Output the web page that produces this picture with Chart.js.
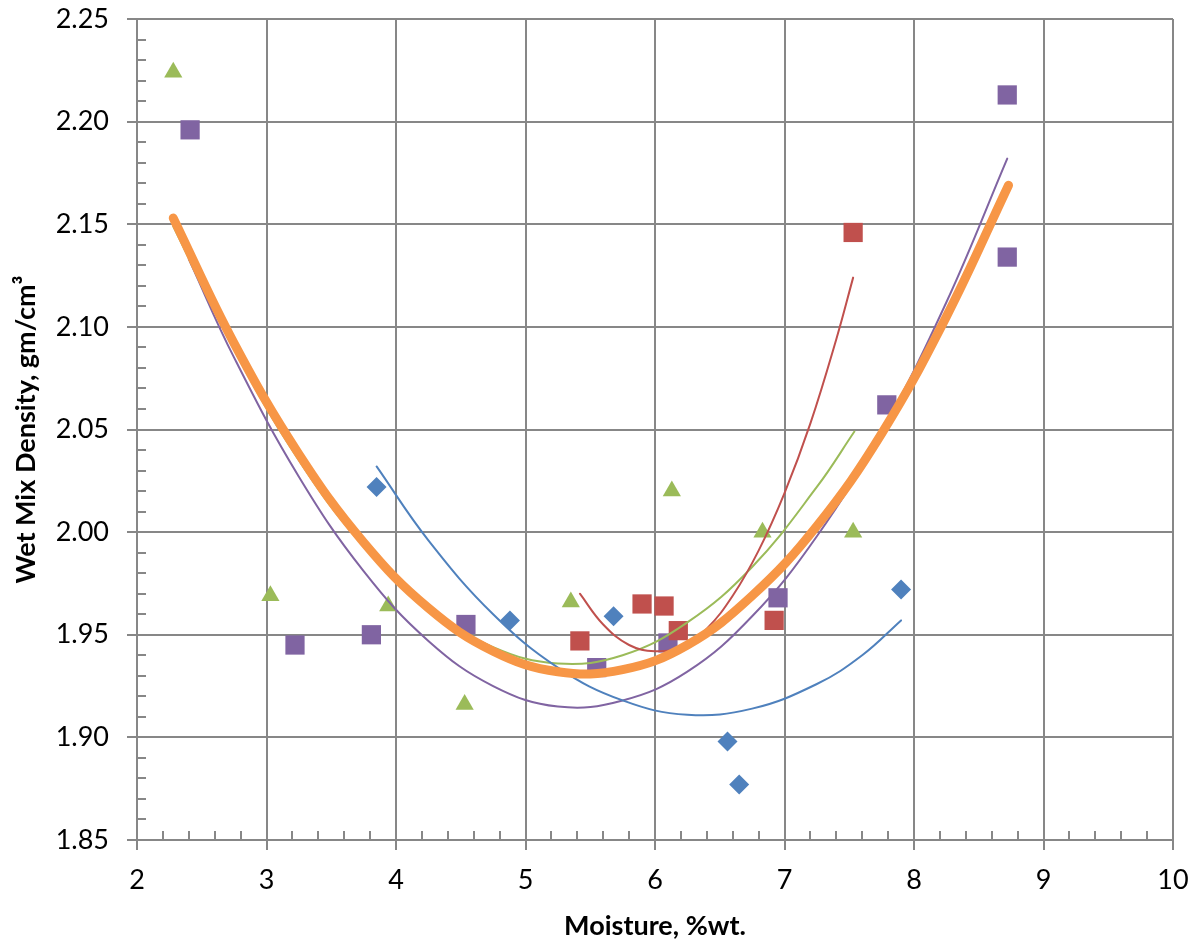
<!DOCTYPE html>
<html>
<head>
<meta charset="utf-8">
<script src="https://cdn.jsdelivr.net/npm/chart.js@4.4.1/dist/chart.umd.min.js"></script>
<style>
  html, body { margin: 0; padding: 0; background: #fff; }
  #wrap { width: 1198px; height: 946px; }
</style>
</head>
<body>
<div id="wrap"><canvas id="myChart" width="1198" height="946"></canvas></div>
<script>
// measured points (moisture %wt, wet mix density)
const blueX = [3.85, 4.88, 5.68, 6.56, 6.65, 7.90];
const blueY = [2.022, 1.957, 1.959, 1.898, 1.877, 1.972];
const redX = [5.42, 5.90, 6.07, 6.18, 6.92, 7.53];
const redY = [1.947, 1.965, 1.964, 1.952, 1.957, 2.146];
const greenX = [2.28, 3.03, 3.94, 4.53, 5.35, 6.13, 6.83, 7.53];
const greenY = [2.224, 1.969, 1.964, 1.916, 1.966, 2.020, 2.000, 2.000];
const purpleX = [2.41, 3.22, 3.81, 4.54, 5.55, 6.10, 6.95, 7.79, 8.72, 8.72];
const purpleY = [2.196, 1.945, 1.950, 1.955, 1.934, 1.946, 1.968, 2.062, 2.213, 2.134];

// trend curves
const blueFitX = [3.85, 4.25, 4.75, 5.25, 5.75, 6.25, 6.75, 7.25, 7.6, 7.9];
const blueFitY = [2.032, 1.996, 1.960, 1.934, 1.918, 1.911, 1.914, 1.926, 1.940, 1.957];
const redFitX = [5.42, 5.6, 5.8, 6.0, 6.2, 6.4, 6.6, 6.8, 7.0, 7.2, 7.4, 7.53];
const redFitY = [1.970, 1.955, 1.945, 1.942, 1.944, 1.953, 1.969, 1.991, 2.019, 2.053, 2.094, 2.124];
const greenFitX = [2.28, 2.75, 3.25, 3.75, 4.25, 4.75, 5.25, 5.75, 6.25, 6.75, 7.25, 7.54];
const greenFitY = [2.149, 2.089, 2.035, 1.993, 1.963, 1.944, 1.936, 1.940, 1.956, 1.983, 2.022, 2.049];
const purpleFitX = [2.4, 2.75, 3.25, 3.75, 4.25, 4.75, 5.25, 5.75, 6.25, 6.75, 7.25, 7.75, 8.25, 8.72];
const purpleFitY = [2.133, 2.085, 2.027, 1.981, 1.947, 1.925, 1.915, 1.918, 1.932, 1.959, 1.998, 2.049, 2.112, 2.182];
const allFitX = [2.28, 2.75, 3.25, 3.75, 4.25, 4.75, 5.25, 5.75, 6.25, 6.75, 7.25, 7.75, 8.25, 8.73];
const allFitY = [2.153, 2.092, 2.038, 1.995, 1.963, 1.942, 1.932, 1.933, 1.945, 1.969, 2.003, 2.048, 2.105, 2.169];

const xTicks = [2, 3, 4, 5, 6, 7, 8, 9, 10];
const yTicks = [1.85, 1.90, 1.95, 2.00, 2.05, 2.10, 2.15, 2.20, 2.25];

const pts = (xs, ys) => xs.map((x, i) => ({x: x, y: ys[i]}));

const gridColor = '#878787';
const fontFamily = 'Lato, "Open Sans", sans-serif';

// small inside tick marks between the major ones
const minorTicks = {
    id: 'minorTicks',
    beforeDatasetsDraw(chart) {
        const ctx = chart.ctx;
        const xs = chart.scales.x;
        const ys = chart.scales.y;
        const area = chart.chartArea;
        ctx.save();
        ctx.strokeStyle = gridColor;
        ctx.lineWidth = 2;
        ctx.beginPath();
        for (let i = 1; i < 40; i++) {
            if (i % 5 === 0) continue;
            const py = Math.round(ys.getPixelForValue(1.85 + i * 0.01));
            ctx.moveTo(area.left, py);
            ctx.lineTo(area.left + 9, py);
            const px = Math.round(xs.getPixelForValue(2 + i * 0.2));
            ctx.moveTo(px, area.bottom);
            ctx.lineTo(px, area.bottom - 9);
        }
        ctx.stroke();
        ctx.restore();
    }
};

function fitLine(data, color, width, order) {
    return {
        type: 'line',
        data: data,
        borderColor: color,
        borderWidth: width,
        borderCapStyle: 'round',
        pointRadius: 0,
        fill: false,
        showLine: true,
        tension: 0.4,
        order: order
    };
}

function markers(data, color, style, radius) {
    return {
        type: 'scatter',
        data: data,
        backgroundColor: color,
        borderColor: color,
        borderWidth: 0,
        pointStyle: style,
        pointRadius: radius,
        order: 3
    };
}

const ctx = document.getElementById('myChart');
const myChart = new Chart(ctx, {
    type: 'scatter',
    data: {
        datasets: [
            markers(pts(blueX, blueY), '#4F81BD', 'rectRot', 10),
            markers(pts(redX, redY), '#C0504D', 'rect', 13.6),
            markers(pts(greenX, greenY), '#9BBB59', 'triangle', 10.5),
            markers(pts(purpleX, purpleY), '#8064A2', 'rect', 13.6),
            fitLine(pts(blueFitX, blueFitY), '#4F81BD', 2, 2),
            fitLine(pts(redFitX, redFitY), '#C0504D', 2, 2),
            fitLine(pts(greenFitX, greenFitY), '#9BBB59', 2, 2),
            fitLine(pts(purpleFitX, purpleFitY), '#8064A2', 2, 2),
            fitLine(pts(allFitX, allFitY), '#F79646', 9, 1)
        ]
    },
    options: {
        responsive: false,
        animation: false,
        layout: { padding: { left: 0, right: 25, top: 19, bottom: 0 } },
        plugins: {
            legend: { display: false },
            tooltip: { enabled: false }
        },
        scales: {
            x: {
                type: 'linear',
                min: 2,
                max: 10,
                afterBuildTicks: axis => { axis.ticks = xTicks.map(v => ({value: v})); },
                afterFit: axis => {
                    axis.height = 106;
                    axis.paddingLeft = 0;
                    axis.paddingRight = 0;
                },
                ticks: {
                    color: '#000',
                    font: { family: fontFamily, size: 27 },
                    padding: 14,
                    maxRotation: 0
                },
                grid: { color: gridColor, lineWidth: 2, tickLength: 10 },
                border: { color: gridColor, width: 2 },
                title: {
                    display: true,
                    text: 'Moisture, %wt.',
                    color: '#000',
                    font: { family: fontFamily, size: 27, weight: 'bold' },
                    padding: { top: 0, bottom: 4 }
                }
            },
            y: {
                type: 'linear',
                min: 1.85,
                max: 2.25,
                afterBuildTicks: axis => { axis.ticks = yTicks.map(v => ({value: v})); },
                afterFit: axis => {
                    axis.width = 137;
                    axis.paddingTop = 0;
                    axis.paddingBottom = 0;
                },
                ticks: {
                    color: '#000',
                    font: { family: fontFamily, size: 27 },
                    padding: 18,
                    callback: v => v.toFixed(2)
                },
                grid: { color: gridColor, lineWidth: 2, tickLength: 10 },
                border: { color: gridColor, width: 2 },
                title: {
                    display: true,
                    text: 'Wet Mix Density, gm/cm³',
                    color: '#000',
                    font: { family: fontFamily, size: 27, weight: 'bold' },
                    padding: { top: 10, bottom: 0 }
                }
            }
        }
    },
    plugins: [minorTicks]
});
</script>
</body>
</html>
